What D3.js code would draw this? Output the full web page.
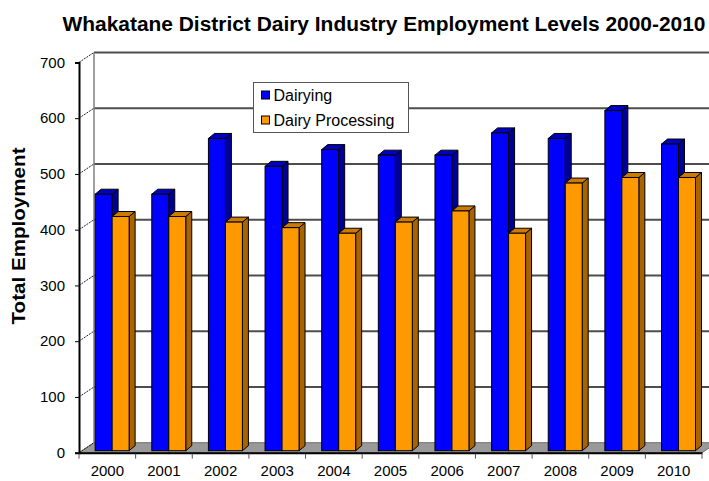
<!DOCTYPE html>
<html>
<head>
<meta charset="utf-8">
<script src="https://cdn.jsdelivr.net/npm/d3@7"></script>
<style>
  html, body { margin: 0; background: #fff; overflow: hidden; }
  svg { display: block; font-family: "Liberation Sans", Arial, sans-serif; }
</style>
</head>
<body>
<div id="container"></div>
<script>
const years = ["2000","2001","2002","2003","2004","2005","2006","2007","2008","2009","2010"];
const dairying = [460, 460, 560, 510, 540, 530, 530, 570, 560, 610, 550];
const processing = [420, 420, 410, 400, 390, 410, 430, 390, 480, 490, 490];
const yTicks = [0, 100, 200, 300, 400, 500, 600, 700];
const seriesNames = ["Dairying", "Dairy Processing"];

const width = 709, height = 481;
const left = 79, right = 702;
const wallDx = 15, wallDy = -10;   // depth of the floor / back wall
const barDx = 6, barDy = -5;       // depth of each bar

const colors = [
  { front: "#0000ff", top: "#0000c0", side: "#000099" },
  { front: "#ff9900", top: "#cc7a00", side: "#a86400" }
];

const x = d3.scaleBand().domain(years).range([left, right]);
const yFront = d3.scaleLinear().domain([0, 700]).range([452.7, 62.4]);
const yBar = d3.scaleLinear().domain([0, 700]).range([450.7, 60.4]);
const yBack = v => yFront(v) + wallDy;

const svg = d3.create("svg").attr("width", width).attr("height", height);

// title
svg.append("text")
  .attr("x", 384).attr("y", 31)
  .attr("text-anchor", "middle")
  .attr("font-weight", "bold")
  .attr("font-size", 20)
  .attr("textLength", 643)
  .attr("lengthAdjust", "spacingAndGlyphs")
  .text("Whakatane District Dairy Industry Employment Levels 2000-2010");

// floor
const floorY = yFront(0);
svg.append("polygon")
  .attr("points", [[left, floorY], [left + wallDx, floorY + wallDy], [right + wallDx, floorY + wallDy], [right, floorY]].join(" "))
  .attr("fill", "#999999")
  .attr("stroke", "#6e6e6e")
  .attr("stroke-width", 1);

// back wall gridlines
svg.append("g").selectAll("line")
  .data(yTicks.filter(d => d > 0))
  .join("line")
  .attr("x1", left + wallDx).attr("x2", width + 10)
  .attr("y1", d => yBack(d)).attr("y2", d => yBack(d))
  .attr("stroke", "#4d4d4d").attr("stroke-width", 2);

// back wall left edge
svg.append("line")
  .attr("x1", left + wallDx).attr("x2", left + wallDx)
  .attr("y1", yBack(700)).attr("y2", yBack(0))
  .attr("stroke", "#808080").attr("stroke-width", 1.5);

// side wall gridlines (diagonals)
svg.append("g").selectAll("line")
  .data(yTicks)
  .join("line")
  .attr("x1", left).attr("x2", left + wallDx)
  .attr("y1", d => yFront(d)).attr("y2", d => yBack(d))
  .attr("stroke", "#222").attr("stroke-width", 1)
  .attr("stroke-dasharray", "2,1");

// bars
const step = x.bandwidth();
const barW = step * 0.3;
const barOffset = step * 0.285;
const barData = [];
years.forEach((yr, i) => {
  [dairying[i], processing[i]].forEach((v, s) => {
    barData.push({ year: yr, value: v, s });
  });
});

const bars = svg.append("g").selectAll("g")
  .data(barData)
  .join("g");

bars.each(function(d) {
  const g = d3.select(this);
  const x0 = x(d.year) + barOffset + d.s * barW;
  const x1 = x0 + barW;
  const yt = yBar(d.value);
  const yb = yBar(0);
  const c = colors[d.s];
  // side
  g.append("polygon")
    .attr("points", [[x1, yt], [x1 + barDx, yt + barDy], [x1 + barDx, yb + barDy], [x1, yb]].join(" "))
    .attr("fill", c.side).attr("stroke", "#000").attr("stroke-width", 1).attr("stroke-linejoin", "round");
  // top
  g.append("polygon")
    .attr("points", [[x0, yt], [x0 + barDx, yt + barDy], [x1 + barDx, yt + barDy], [x1, yt]].join(" "))
    .attr("fill", c.top).attr("stroke", "#000").attr("stroke-width", 1).attr("stroke-linejoin", "round");
  // front
  g.append("rect")
    .attr("x", x0).attr("y", yt)
    .attr("width", barW).attr("height", yb - yt)
    .attr("fill", c.front).attr("stroke", "#000").attr("stroke-width", 1);
});

// y axis
const yAxis = svg.append("g")
  .attr("transform", `translate(${left},0)`)
  .call(d3.axisLeft(yFront).tickValues(yTicks).tickSize(4).tickPadding(10));
yAxis.select(".domain").attr("stroke", "#000").attr("stroke-width", 2);
yAxis.selectAll("text").attr("font-size", 15).attr("font-family", "Liberation Sans, Arial, sans-serif").attr("fill", "#000");

// x axis
const xAxis = svg.append("g")
  .attr("transform", `translate(0,${floorY})`)
  .call(d3.axisBottom(x).tickSize(0).tickPadding(13));
xAxis.select(".domain").attr("stroke", "#000").attr("stroke-width", 2);
xAxis.selectAll("text").attr("font-size", 15).attr("font-family", "Liberation Sans, Arial, sans-serif").attr("fill", "#000");

// category boundary ticks
svg.append("g").selectAll("line")
  .data(years.map(d => x(d)).concat([right]))
  .join("line")
  .attr("x1", d => d).attr("x2", d => d)
  .attr("y1", floorY + 1).attr("y2", floorY + 6)
  .attr("stroke", "#555").attr("stroke-width", 1);

// y axis title
svg.append("text")
  .attr("transform", "translate(25,236) rotate(-90)")
  .attr("text-anchor", "middle")
  .attr("font-weight", "bold")
  .attr("font-size", 18)
  .attr("textLength", 177)
  .attr("lengthAdjust", "spacingAndGlyphs")
  .text("Total Employment");

// legend
const legend = svg.append("g").attr("transform", "translate(253.5,82.5)");
legend.append("rect")
  .attr("width", 155).attr("height", 50)
  .attr("fill", "#fff").attr("stroke", "#555").attr("stroke-width", 1);
seriesNames.forEach((name, i) => {
  const row = legend.append("g").attr("transform", `translate(8,${12.5 + i * 25})`);
  row.append("rect")
    .attr("x", 0).attr("y", -4).attr("width", 8).attr("height", 8)
    .attr("fill", colors[i].front).attr("stroke", "#000").attr("stroke-width", 1);
  row.append("text")
    .attr("x", 12).attr("y", 0).attr("dy", "0.35em")
    .attr("font-size", 16)
    .text(name);
});

document.querySelector("#container").appendChild(svg.node());
</script>
</body>
</html>
